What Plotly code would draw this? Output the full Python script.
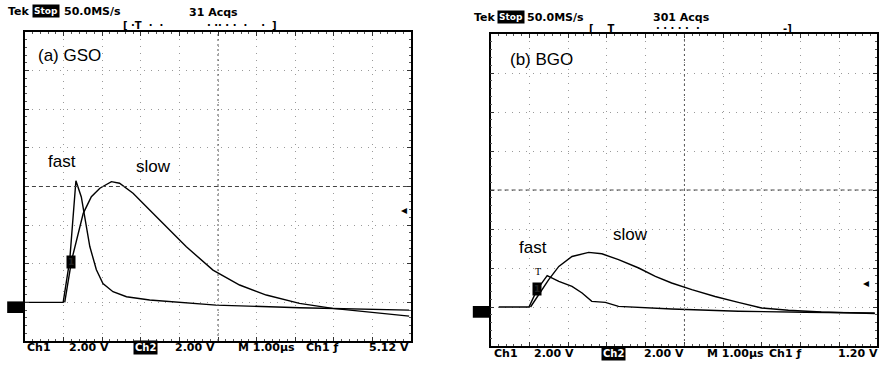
import numpy as np
import plotly.graph_objects as go

# ---------------- data (time in µs, signal in V relative to baseline) -------------
gso_fast_t = [0.0, 0.99, 1.16, 1.32, 1.46, 1.55, 1.68, 1.85, 2.02, 2.28, 2.63, 3.23, 4.95, 7.11, 8.83, 9.95]
gso_fast_v = [0.0, 0.0, 2.19, 6.30, 5.46, 4.39, 2.89, 1.69, 0.98, 0.55, 0.29, 0.12, -0.14, -0.28, -0.36, -0.40]

gso_slow_t = [1.03, 1.21, 1.51, 1.72, 1.94, 2.24, 2.45, 2.80, 3.23, 3.66, 4.18, 4.87, 5.56, 6.25, 7.11, 7.97, 8.83, 9.95]
gso_slow_v = [0.0, 2.19, 4.61, 5.47, 5.91, 6.25, 6.17, 5.65, 4.78, 3.92, 2.88, 1.67, 0.90, 0.38, -0.05, -0.31, -0.49, -0.71]

bgo_fast_t = [0.21, 0.99, 1.20, 1.46, 1.76, 2.10, 2.36, 2.61, 2.96, 3.30, 4.67, 6.39, 8.11, 9.91]
bgo_fast_v = [0.0, 0.0, 0.89, 1.61, 1.31, 1.06, 0.72, 0.29, 0.24, 0.03, -0.10, -0.22, -0.27, -0.31]

bgo_slow_t = [1.03, 1.24, 1.50, 1.76, 2.10, 2.53, 2.87, 3.30, 3.82, 4.25, 4.67, 5.19, 5.79, 6.39, 6.99, 7.68, 8.53, 9.91]
bgo_slow_v = [0.0, 0.63, 1.40, 2.08, 2.59, 2.80, 2.73, 2.43, 2.00, 1.57, 1.23, 0.89, 0.54, 0.24, -0.05, -0.17, -0.26, -0.34]

panel_titles = ["(a) GSO", "(b) BGO"]
acqs = ["31 Acqs", "301 Acqs"]
trig_levels = ["5.12 V", "1.20 V"]
ch_scale = "2.00 V"
time_scale = "M 1.00µs"

W, H = 879, 367
def px(x): return x / W
def py(y): return 1 - y / H

RO_FONT = "DejaVu Sans, Arial, sans-serif"

fig = go.Figure()
line = dict(color="black", width=1.4)
fig.add_trace(go.Scatter(x=gso_fast_t, y=gso_fast_v, mode="lines", line=line, xaxis="x", yaxis="y", showlegend=False))
fig.add_trace(go.Scatter(x=gso_slow_t, y=gso_slow_v, mode="lines", line=line, xaxis="x", yaxis="y", showlegend=False))
fig.add_trace(go.Scatter(x=bgo_fast_t, y=bgo_fast_v, mode="lines", line=line, xaxis="x2", yaxis="y2", showlegend=False))
fig.add_trace(go.Scatter(x=bgo_slow_t, y=bgo_slow_v, mode="lines", line=line, xaxis="x2", yaxis="y2", showlegend=False))

def xax(domain, rng):
    return dict(domain=domain, range=rng, dtick=1, tick0=0, showticklabels=False,
                showgrid=True, gridcolor="#9a9a9a", griddash="1px,6px", gridwidth=1,
                zeroline=False, showline=True, linecolor="black", linewidth=1.5, mirror="allticks",
                ticks="inside", ticklen=4, tickcolor="#333",
                minor=dict(dtick=0.2, ticks="inside", ticklen=2, tickcolor="#555", showgrid=False))

def yax(domain):
    return dict(domain=domain, range=[-2, 14], dtick=2, tick0=-2, showticklabels=False,
                showgrid=True, gridcolor="#9a9a9a", griddash="1px,6px", gridwidth=1,
                zeroline=False, showline=True, linecolor="black", linewidth=1.5, mirror="allticks",
                ticks="inside", ticklen=4, tickcolor="#333",
                minor=dict(dtick=0.4, ticks="inside", ticklen=2, tickcolor="#555", showgrid=False))

fig.update_layout(
    width=W, height=H, margin=dict(l=0, r=0, t=0, b=0),
    paper_bgcolor="white", plot_bgcolor="white",
    xaxis=dict(xax([px(25), px(412)], [0, 10]), anchor="y"),
    yaxis=dict(yax([py(341), py(32)]), anchor="x"),
    xaxis2=dict(xax([px(491.7), 1.0], [0, 9.967]), anchor="y2"),
    yaxis2=dict(yax([py(346), py(34)]), anchor="x2"),
    font=dict(family="Liberation Sans, Arial, sans-serif", color="black"),
)

shapes = []
for xr, yr in [("x", "y"), ("x2", "y2")]:
    # center crosshair lines
    shapes.append(dict(type="line", xref=xr + " domain", yref=yr, x0=0, x1=1, y0=6, y1=6,
                       line=dict(color="#444", width=1, dash="4px,3px")))
    shapes.append(dict(type="line", xref=xr, yref=yr + " domain", x0=5, x1=5, y0=0, y1=1,
                       line=dict(color="#555", width=1, dash="2px,3px")))
    # ground marker
    shapes.append(dict(type="rect", xref=xr + " domain", yref=yr, x0=-0.046, x1=-0.003, y0=-0.55, y1=0.05,
                       fillcolor="black", line=dict(width=0)))
fig.update_layout(shapes=shapes)

ann = []
def txt(x, y, s, size=11, bold=True, **kw):
    d = dict(x=px(x), y=py(y), xref="paper", yref="paper", text=("<b>%s</b>" % s) if bold else s,
             showarrow=False, font=dict(size=size, family=RO_FONT, color="black"),
             xanchor="left", yanchor="middle")
    d.update(kw)
    ann.append(d)

def boxed(x, y, s, size=9):
    ann.append(dict(x=px(x), y=py(y), xref="paper", yref="paper", text="<b>%s</b>" % s, showarrow=False,
                    bgcolor="black", font=dict(size=size, color="white", family=RO_FONT),
                    xanchor="left", yanchor="middle", borderpad=1))

# headers
txt(6, 11, "Tek")
boxed(32, 11, "Stop")
txt(62, 11, "50.0MS/s")
txt(187, 12, acqs[0])
txt(121, 25, "[ ·T  ·  ·", size=10)
txt(205, 25, "· ·· · ·  ·    ·  ]", size=10)

txt(473, 17, "Tek")
boxed(498, 17, "Stop")
txt(526, 17, "50.0MS/s")
txt(652, 17, acqs[1])
txt(588, 29, "[    T", size=10)
txt(655, 29, "· · · · ·  ·", size=10)
txt(783, 29, "-]", size=10)

# bottom readouts
readout_x = [(25, 67, 133, 173, 237, 305, 368, 347, trig_levels[0]),
             (493, 533, 602, 643, 707, 769, 838, 353, trig_levels[1])]
for c1, s1, bx, s2, m, c2, tr, yy, trig in readout_x:
    txt(c1, yy, "Ch1")
    txt(s1, yy, ch_scale)
    boxed(bx, yy, "Ch2", size=10)
    txt(s2, yy, ch_scale)
    txt(m, yy, time_scale)
    txt(c2, yy, "Ch1 ƒ")
    txt(tr, yy, trig)

# panel labels (data coords)
lab = dict(showarrow=False, font=dict(size=17, family="Liberation Sans, Arial, sans-serif", color="black"))
ann.append(dict(x=1.16, y=12.8, xref="x", yref="y", text=panel_titles[0], **lab))
ann.append(dict(x=0.97, y=7.27, xref="x", yref="y", text="fast", **lab))
ann.append(dict(x=3.32, y=7.01, xref="x", yref="y", text="slow", **lab))
ann.append(dict(x=1.31, y=12.68, xref="x2", yref="y2", text=panel_titles[1], **lab))
ann.append(dict(x=1.09, y=3.04, xref="x2", yref="y2", text="fast", **lab))
ann.append(dict(x=3.60, y=3.71, xref="x2", yref="y2", text="slow", **lab))

# trigger level arrows and channel markers
ann.append(dict(x=px(405), y=py(210), xref="paper", yref="paper", text="◂", showarrow=False,
                font=dict(size=12, color="black")))
ann.append(dict(x=px(873), y=py(292), xref="paper", yref="paper", text="◂", showarrow=False,
                font=dict(size=12, color="black")))
ann.append(dict(x=1.19, y=2.1, xref="x", yref="y", text="<b>1</b>", showarrow=False, bgcolor="black",
                font=dict(size=9, color="#222", family=RO_FONT), borderpad=1))
ann.append(dict(x=1.19, y=0.9, xref="x2", yref="y2", text="<b>1</b>", showarrow=False, bgcolor="black",
                font=dict(size=9, color="#222", family=RO_FONT), borderpad=1))
ann.append(dict(x=1.23, y=1.8, xref="x2", yref="y2", text="T", showarrow=False,
                font=dict(size=10, color="black", family="Liberation Serif")))

fig.update_layout(annotations=ann)
fig.write_html("out.html", config={"displayModeBar": False},
               post_script="document.body.style.margin='0';document.body.style.overflow='hidden';")
